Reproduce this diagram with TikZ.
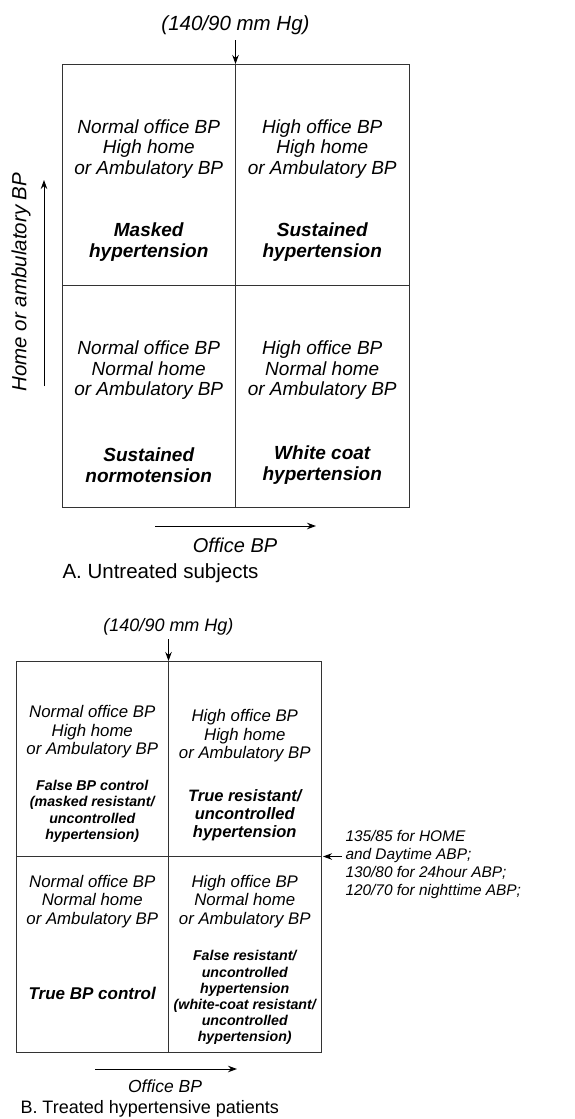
\documentclass[tikz,border=0pt]{standalone}
\usepackage{fontspec}
\setmainfont{Liberation Sans}
\usetikzlibrary{positioning,arrows.meta}

\begin{document}
\begin{tikzpicture}[
          x=1pt, y=1pt,
          >={Stealth[length=9pt,width=6.5pt]},
          every path/.style = {line width=1pt},
          box/.style = {draw=black!80, line width=1pt, rectangle, inner sep=0pt, outer sep=0pt},
          cell-a/.style = {box, minimum width=173.5pt, minimum height=221.5pt},
          cell-b/.style = {box, minimum width=152.5pt, minimum height=195.5pt},
          txt/.style = {align=center, inner sep=0pt},
          desc-a/.style = {txt, font=\fontsize{19}{20.5}\selectfont\itshape},
          name-a/.style = {txt, font=\fontsize{19}{21}\selectfont\bfseries\itshape},
          desc-b/.style = {txt, font=\fontsize{16.8}{18.5}\selectfont\itshape},
          name-b/.style = {txt, font=\fontsize{14.2}{16.2}\selectfont\bfseries\itshape},
          name-bb/.style = {txt, font=\fontsize{16.5}{18}\selectfont\bfseries\itshape},
          node distance = 0pt
        ]
          \useasboundingbox (0,0) rectangle (574,-1119);

          % A. untreated subjects
          \node[cell-a, anchor=north west] (a11) at (62,-64) {};
          \node[cell-a, right=of a11] (a12) {};
          \node[cell-a, below=of a11] (a21) {};
          \node[cell-a, right=of a21] (a22) {};

          \node[desc-a] (a11d) at ([yshift=26pt]a11.center) {Normal office BP\\High home\\or Ambulatory BP};
          \node[name-a] (a11n) at ([yshift=-67pt]a11.center) {Masked\\hypertension};
          \node[desc-a] (a12d) at ([yshift=26pt]a12.center) {High office BP\\High home\\or Ambulatory BP};
          \node[name-a] (a12n) at ([yshift=-67pt]a12.center) {Sustained\\hypertension};
          \node[desc-a] (a21d) at ([yshift=26pt]a21.center) {Normal office BP\\Normal home\\or Ambulatory BP};
          \node[name-a] (a21n) at ([yshift=-69pt]a21.center) {Sustained\\normotension};
          \node[desc-a] (a22d) at ([yshift=26pt]a22.center) {High office BP\\Normal home\\or Ambulatory BP};
          \node[name-a] (a22n) at ([yshift=-69pt]a22.center) {White coat\\hypertension};

          \node[txt, font=\fontsize{20.5}{24}\selectfont\itshape, above=29pt of a11.north east] (thrA) {(140/90 mm Hg)};
          \draw[->] ([yshift=-5pt]thrA.south) -- (a11.north east);

          \node[txt, font=\fontsize{20.5}{24}\selectfont\itshape, rotate=90] (yA) at (21,-282) {Home or ambulatory BP};
          \coordinate (yA0) at (44,-386);
          \coordinate (yA1) at (44,-180);
          \draw[->] (yA0) -- (yA1);

          \coordinate (xA0) at (155,-526);
          \coordinate (xA1) at (316,-526);
          \draw[->] (xA0) -- (xA1);
          \node[txt, font=\fontsize{20}{24}\selectfont\itshape] (xlabA) at (235,-545) {Office BP};
          \node[txt, font=\fontsize{20.5}{24}\selectfont, anchor=west] (capA) at (62,-573) {A. Untreated subjects};

          % B. treated hypertensive patients
          \node[cell-b, anchor=north west] (b11) at (16,-661) {};
          \node[cell-b, right=of b11] (b12) {};
          \node[cell-b, below=of b11] (b21) {};
          \node[cell-b, right=of b21] (b22) {};

          \node[desc-b] (b11d) at ([yshift=27pt]b11.center) {Normal office BP\\High home\\or Ambulatory BP};
          \node[name-b] (b11n) at ([yshift=-52.5pt]b11.center) {False BP control\\(masked resistant/\\uncontrolled\\hypertension)};
          \node[desc-b] (b12d) at ([yshift=23pt]b12.center) {High office BP\\High home\\or Ambulatory BP};
          \node[name-bb] (b12n) at ([yshift=-56.5pt]b12.center) {True resistant/\\uncontrolled\\hypertension};
          \node[desc-b] (b21d) at ([yshift=53pt]b21.center) {Normal office BP\\Normal home\\or Ambulatory BP};
          \node[name-bb, font=\fontsize{17}{19}\selectfont\bfseries\itshape] (b21n) at ([yshift=-39pt]b21.center) {True BP control};
          \node[desc-b] (b22d) at ([yshift=53pt]b22.center) {High office BP\\Normal home\\or Ambulatory BP};
          \node[name-b] (b22n) at ([yshift=-43.5pt]b22.center) {False resistant/\\uncontrolled\\hypertension\\(white-coat resistant/\\uncontrolled\\hypertension)};

          \node[txt, font=\fontsize{18}{22}\selectfont\itshape, above=25pt of b11.north east] (thrB) {(140/90 mm Hg)};
          \draw[->] ([yshift=-3pt]thrB.south) -- (b11.north east);

          \node[txt, align=left, anchor=west, font=\fontsize{15.4}{18}\selectfont\itshape] (homeB) at (345,-865) {135/85 for HOME\\and Daytime ABP;\\130/80 for 24hour ABP;\\120/70 for nighttime ABP;};
          \draw[->, shorten >=2pt] ([xshift=-3pt]homeB.west |- b12.south east) -- (b12.south east);

          \coordinate (xB0) at (95,-1069);
          \coordinate (xB1) at (237,-1069);
          \draw[->] (xB0) -- (xB1);
          \node[txt, font=\fontsize{17.5}{21}\selectfont\itshape] (xlabB) at (165,-1086) {Office BP};
          \node[txt, font=\fontsize{18}{22}\selectfont, anchor=west] (capB) at (20,-1109) {B. Treated hypertensive patients};
        \end{tikzpicture}
\end{document}
